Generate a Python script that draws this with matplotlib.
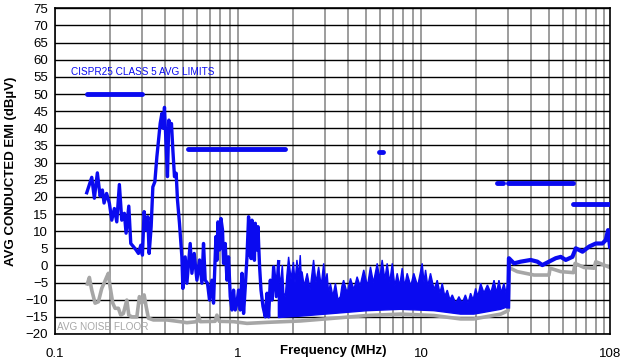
import numpy as np
import matplotlib.pyplot as plt

# EMI trace, 0.15 - 1.7 MHz (MHz, dBuV)
f_low = [0.1491, 0.1588, 0.1641, 0.1704, 0.1764, 0.1815, 0.1854, 0.1914, 0.1983, 0.2043,
         0.2111, 0.2176, 0.2248, 0.2317, 0.2394, 0.2446, 0.2531, 0.2595, 0.2682, 0.2776,
         0.2858, 0.2945, 0.3005, 0.3070, 0.3149, 0.3217, 0.3270, 0.3354, 0.3426, 0.3514,
         0.3604, 0.3696, 0.3757, 0.3838, 0.3902, 0.3966, 0.4036, 0.4118, 0.4191, 0.4261,
         0.4331, 0.4408, 0.4498, 0.4595, 0.4671, 0.4790, 0.4937, 0.5000, 0.5146, 0.5258,
         0.5482, 0.5601, 0.5766, 0.5965, 0.6164, 0.6353, 0.6482, 0.6622, 0.6817, 0.6991,
         0.7205, 0.7352, 0.7578, 0.7675, 0.7771, 0.7850, 0.7930, 0.8070, 0.8235, 0.8340,
         0.8520, 0.8705, 0.8882, 0.9075, 0.9272, 0.9461, 0.9665, 0.9874, 1.0076, 1.0294,
         1.0517, 1.0732, 1.0965, 1.1202, 1.1429, 1.1550, 1.1677, 1.1800, 1.1930, 1.2050,
         1.2174, 1.2300, 1.2437, 1.2580, 1.2706, 1.2868, 1.3000, 1.3130, 1.3364, 1.3704,
         1.4109, 1.4414, 1.4709, 1.5027, 1.5352, 1.5666, 1.6206, 1.6683]
v_low = [21.2, 25.7, 19.6, 27.0, 20.2, 22.0, 18.2, 21.0, 18.1, 13.2,
         16.6, 12.7, 23.6, 13.2, 15.2, 9.4, 17.3, 6.4, 5.5, 4.5,
         3.5, 5.9, 3.0, 15.7, 10.3, 14.2, 3.5, 11.3, 22.9, 24.4,
         31.7, 37.5, 41.4, 44.3, 40.0, 46.1, 36.6, 25.9, 42.4, 39.5,
         41.4, 33.6, 25.9, 26.9, 19.1, 12.3, 2.5, -6.7, 2.5, -5.2,
         6.4, -2.3, 3.5, -4.3, 1.6, -5.2, 6.4, -4.3, -5.2, -10.1,
         -4.3, -11.0, 8.4, 1.5, 12.7, 10.0, 4.5, 13.7, 10.3, 0.6,
         6.4, -4.3, 2.5, -9.1, -13.0, -7.2, -13.0, -11.0, -7.2, -13.0,
         -2.3, -14.0, -6.2, 2.5, 14.2, 3.0, 11.3, 2.0, 13.2, 4.0,
         9.4, 1.5, 12.3, 8.0, 4.5, 11.3, 5.0, -0.4, -7.2, -12.0,
         -15.0, -8.1, -15.0, -4.3, -10.1, -0.4, -9.1, 1.1]

# EMI band 1.7 - 30 MHz: upper edge
f_band_hi = [1.663, 1.70, 1.748, 1.78, 1.815, 1.85, 1.892, 1.95, 2.01, 2.05,
             2.10, 2.15, 2.19, 2.22, 2.24, 2.3, 2.39, 2.48, 2.59, 2.67,
             2.76, 2.85, 2.94, 3.0, 3.07, 3.13, 3.20, 3.3, 3.41, 3.52,
             3.63, 3.7, 3.78, 3.95, 4.12, 4.3, 4.48, 4.65, 4.87, 5.1,
             5.30, 5.5, 5.77, 5.95, 6.14, 6.35, 6.54, 6.75, 6.97, 7.2,
             7.42, 7.65, 7.90, 8.15, 8.41, 8.8, 9.14, 9.6, 10.16, 10.4,
             10.6, 10.9, 11.28, 11.8, 12.28, 12.7, 13.08, 13.5, 13.93, 14.4,
             14.84, 15.5, 16.13, 16.8, 17.5, 18.1, 18.68, 19.3, 19.9, 20.5,
             21.2, 22.1, 23.1, 24.1, 25.1, 25.9, 26.7, 27.5, 28.4, 29.2, 29.97]
v_band_hi = [1.1, -6, 0.1, -8, -9.1, -3, 2.5, -4, 1.0, -5,
             1.6, -3, 3.0, -4, -1.8, -6, -2.3, -7, 1.6, -5,
             -0.4, -6, 0.6, -5, -2.3, -8, -5.2, -9, -5.2, -10,
             -9.1, -6, -4.3, -8, -3.8, -7, -3.3, -6, -1.3, -6,
             -0.4, -5, 0.6, -4, 1.6, -4, 0.6, -5, 0.6, -6,
             -2.3, -6, -0.8, -6, -2.3, -6, -2.3, -6, 0.6, -5,
             -1.3, -6, -2.3, -7, -4.3, -8, -5.2, -9, -7.2, -10,
             -8.6, -11, -9.1, -11, -8.6, -11, -8.1, -10, -6.7, -9,
             -5.2, -8, -5.7, -8, -4.3, -8, -4.3, -8, -5.2, -8, -5.0]
# lower edge
f_band_lo = [1.663, 2.19, 3.34, 5.08, 7.73, 11.77, 16.47, 19.48, 27.3, 29.97]
v_band_lo = [-15.2, -14.8, -14.0, -13.2, -12.8, -13.2, -14.2, -14.2, -12.8, -12.0]

# EMI trace 30 - 108 MHz
f_high = [29.97, 30.27, 32.25, 35.09, 39.8, 43.3, 46.1, 50.1, 54.5, 58.1, 61.9, 67.3,
          70.2, 76.4, 83.0, 90.3, 98.2, 102.4, 105.4, 108]
v_high = [-12.0, 2.1, 0.6, 1.1, 1.6, 1.1, 0.1, 1.1, 2.1, 2.5, 1.6, 2.5,
          5.0, 4.0, 5.5, 6.4, 6.4, 7.4, 10.3, 5.5]

# noise floor
f_noise = [0.1502, 0.1541, 0.1588, 0.1656, 0.1726, 0.1801, 0.1854, 0.1919, 0.1958, 0.2,
           0.2069, 0.2130, 0.2221, 0.2289, 0.2365, 0.2469, 0.2531, 0.2630, 0.2801, 0.2893,
           0.2983, 0.3070, 0.3149, 0.3241, 0.3451, 0.4088, 0.4830, 0.5258, 0.5965, 0.607,
           0.622, 0.75, 0.767, 0.79, 0.9461, 1.1202, 1.4414, 2.19, 3.34, 5.08,
           7.73, 11.77, 16.47, 19.48, 27.3, 29.97, 30.27, 33.6, 41.5, 50.1,
           50.8, 58.1, 68.2, 69.6, 77.9, 88.4, 90.3, 108]
v_noise = [-5.4, -3.5, -7.2, -11.0, -10.6, -6.7, -5.2, -3.3, -2.3, -6.2,
           -11.0, -12.5, -12.5, -14.5, -14.0, -10.1, -14.5, -15.0, -15.0, -9.1,
           -11.0, -8.6, -12.0, -15.4, -15.9, -15.9, -16.4, -16.7, -16.4, -14.5,
           -16.4, -16.3, -14.5, -16.3, -16.4, -16.9, -16.6, -16.2, -15.4, -14.6,
           -14.2, -14.6, -15.6, -15.6, -14.2, -13.2, -0.6, -1.8, -2.8, -2.8,
           -0.8, -1.8, -2.1, 0.6, -0.6, -0.8, 1.1, -0.6]

# CISPR25 class 5 average limits
lim_start = [0.15, 0.53, 5.9, 26, 30, 68]
lim_stop = [0.30, 1.8, 6.2, 28, 68, 108]
lim_level = [50, 34, 33, 24, 24, 18]

blue = '#0A0AF0'
gray = '#A6A6A6'
plt.rcParams['font.family'] = ['Liberation Sans', 'DejaVu Sans']

fig = plt.figure(figsize=(6.22, 3.6), dpi=100)
ax = fig.add_axes([55 / 622, 26 / 360, 555 / 622, 325.7 / 360])
ax.set_xscale('log')
ax.set_xlim(0.1, 108)
ax.set_ylim(-20, 75)

# grid
grid_x = [m * 10.0 ** e for e in (-1, 0, 1) for m in range(1, 10)] + [100]
for g in grid_x:
    ax.axvline(g, color='#8C8C8C', lw=1.2, zorder=1)
for yv in range(-20, 76, 5):
    ax.axhline(yv, color='black', lw=1.0, zorder=1)

ax.plot(f_noise, v_noise, color=gray, lw=2.6, zorder=2)
band_x = np.concatenate([f_band_hi, f_band_lo[::-1]])
band_y = np.concatenate([v_band_hi, v_band_lo[::-1]])
ax.fill(band_x, band_y, color=blue, lw=1.0, zorder=3)
ax.plot(f_low, v_low, color=blue, lw=2.4, zorder=3)
ax.plot(f_high, v_high, color=blue, lw=3.0, zorder=3)
for a, b, lv in zip(lim_start, lim_stop, lim_level):
    ax.plot([a, b], [lv, lv], color=blue, lw=3.5, solid_capstyle='round', zorder=4)

ax.text(0.1224, 56.5, 'CISPR25 CLASS 5 AVG LIMITS', color=blue, fontsize=7.2,
        va='center', ha='left')
ax.text(0.1025, -18.0, 'AVG NOISE FLOOR', color=gray, fontsize=7.2,
        va='center', ha='left')

ax.set_xticks([0.1, 1, 10, 108])
ax.set_xticklabels(['0.1', '1', '10', '108'])
ax.minorticks_off()
ax.set_yticks(range(-20, 76, 5))
ax.tick_params(length=0, labelsize=9.5)
ax.tick_params(axis='x', pad=10)
ax.tick_params(axis='y', pad=5)
for s in ax.spines.values():
    s.set_linewidth(1.2)

ax.set_ylabel('AVG CONDUCTED EMI (dB\u00b5V)', fontsize=9.5, fontweight='bold', labelpad=6)
fig.text(333 / 622, 1 - 351 / 360, 'Frequency (MHz)', fontsize=9.5, fontweight='bold',
         ha='center', va='center')

fig.savefig('out.png', dpi=100)
